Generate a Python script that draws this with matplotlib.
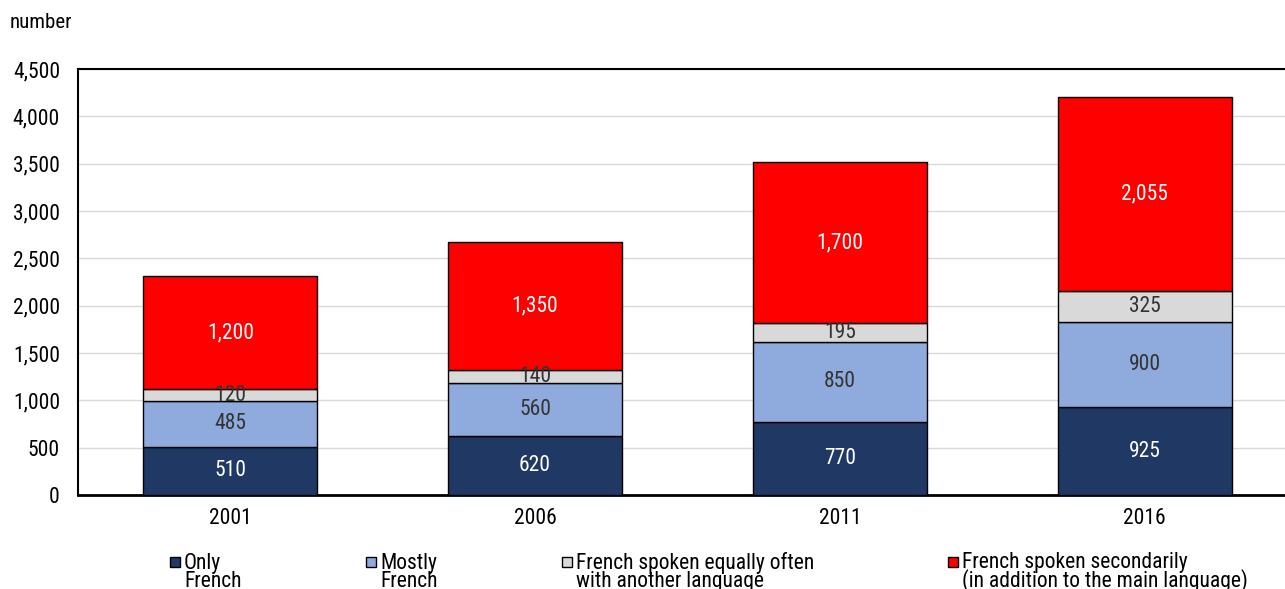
import numpy as np
import matplotlib.pyplot as plt
from matplotlib.patches import Rectangle

plt.rcParams['font.family'] = ['Roboto Condensed', 'Liberation Sans Narrow', 'DejaVu Sans']
plt.rcParams['font.stretch'] = 'condensed'

years = ["2001", "2006", "2011", "2016"]
only_french = [510, 620, 770, 925]
mostly_french = [485, 560, 850, 900]
equally = [120, 140, 195, 325]
secondarily = [1200, 1350, 1700, 2055]

series = [only_french, mostly_french, equally, secondarily]
labels = ["Only\nFrench", "Mostly\nFrench",
          "French spoken equally often\nwith another language",
          "French spoken secondarily\n(in addition to the main language)"]
colors = ["#203864", "#8FAADC", "#D9D9D9", "#FF0000"]
text_colors = ["white", "#333333", "#333333", "white"]

W, H = 1285, 589
fig = plt.figure(figsize=(W / 100, H / 100), dpi=100)
# axes runs a little past the right edge, like the cropped original
ax = fig.add_axes([78 / W, 1 - 495 / H, 1219 / W, 426 / H])

x = np.arange(len(years))
bottom = np.zeros(len(years))
for vals, col, tc in zip(series, colors, text_colors):
    vals = np.array(vals)
    ax.bar(x, vals, 0.571, bottom=bottom, color=col, edgecolor="black",
           linewidth=1, zorder=3)
    for xi, b, v in zip(x, bottom, vals):
        ax.text(xi, b + v / 2, f"{v:,}", ha="center", va="center",
                color=tc, fontsize=15.5, zorder=4)
    bottom += vals

ax.set_xlim(-0.5, 3.5)
ax.set_ylim(0, 4500)
ax.set_yticks(np.arange(0, 4501, 500))
ax.yaxis.set_major_formatter(plt.FuncFormatter(lambda v, p: f"{int(v):,}"))
ax.set_xticks(x)
ax.set_xticklabels(years)
ax.tick_params(axis="both", length=0, labelsize=15.5, colors="black")
ax.tick_params(axis="x", pad=9)
ax.tick_params(axis="y", pad=13)
ax.yaxis.grid(True, color="#D9D9D9", linewidth=1, zorder=0)
for s in ax.spines.values():
    s.set_linewidth(1.5)
ax.spines["bottom"].set_linewidth(2)

fig.text(10 / W, 1 - 22 / H, "number", fontsize=15, va="center")

# legend drawn by hand: small square + two-line label (second line cut at bottom)
leg_x = [170, 366, 562, 948]
for lab, col, lx in zip(labels, colors, leg_x):
    fig.patches.append(Rectangle((lx / W, 1 - 567 / H), 10 / W, 10 / H,
                                 transform=fig.transFigure, facecolor=col,
                                 edgecolor="black", linewidth=1))
    fig.text((lx + 14) / W, 1 - 587 / H, lab, fontsize=15.5,
             va="baseline", ha="left", linespacing=0.8)

fig.savefig("out.png", dpi=100)
